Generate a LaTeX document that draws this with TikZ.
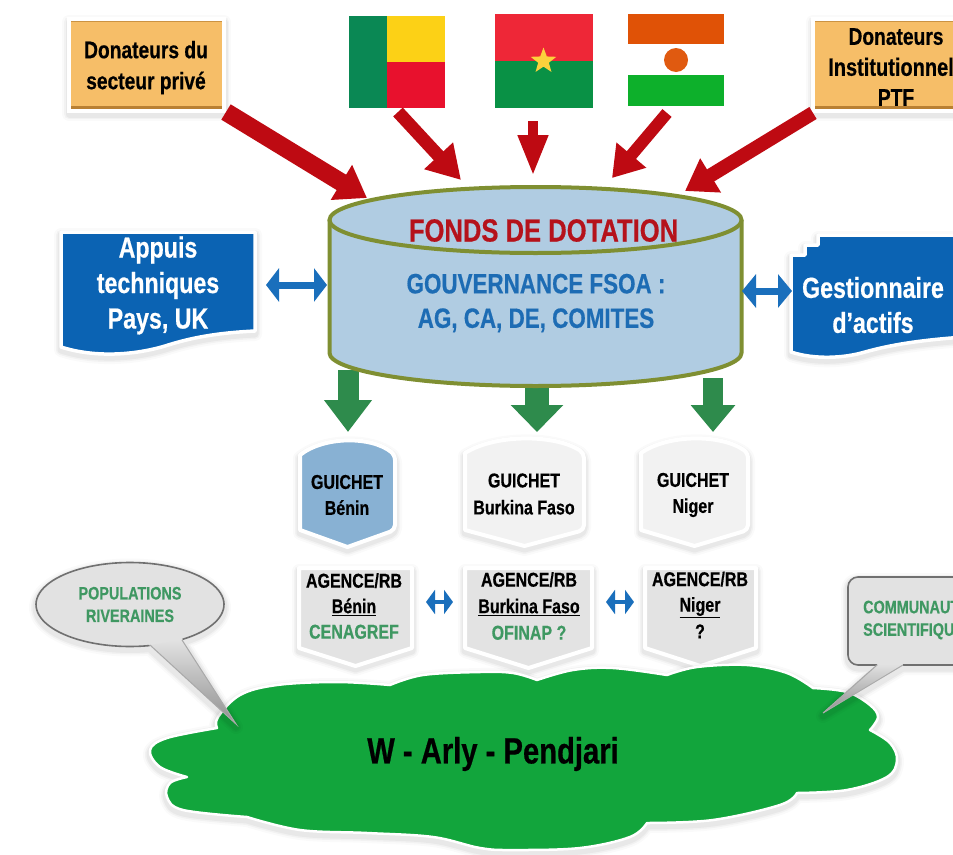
\documentclass[tikz,border=0pt]{standalone}
\usepackage{fontspec}
\setmainfont[FakeStretch=0.8,BoldFeatures={FakeBold=0.5}]{Liberation Sans}
\usetikzlibrary{arrows.meta,shapes.geometric}
\definecolor{orangebox}{HTML}{F6BE68}
\definecolor{orangedark}{HTML}{B98033}
\definecolor{bluebox}{HTML}{0B63B3}
\definecolor{bluedark}{HTML}{084A88}
\definecolor{arrowblue}{HTML}{1A6FBC}
\definecolor{arrowred}{HTML}{BE0A12}
\definecolor{arrowgreen}{HTML}{2E8B4C}
\definecolor{olive}{HTML}{7F8F32}
\definecolor{cylfill}{HTML}{B0CCE2}
\definecolor{titlered}{HTML}{B5121B}
\definecolor{textblue}{HTML}{1D6CB4}
\definecolor{textgreen}{HTML}{3F9862}
\definecolor{cloudgreen}{HTML}{12A53C}
\definecolor{guichetblue}{HTML}{88B1D3}
\definecolor{guichetwhite}{HTML}{F2F2F2}
\definecolor{agencegray}{HTML}{E3E3E3}
\definecolor{calloutgray}{HTML}{E2E2E2}
\definecolor{calloutline}{HTML}{707070}
\pgfdeclareverticalshading{bluesh}{100bp}{color(0bp)=(bluedark); color(12bp)=(bluebox); color(100bp)=(bluebox)}
\tikzset{
 softsh/.style={
  preaction={draw=black,draw opacity=.02,line width=14pt,line join=round,transform canvas={yshift=-3pt}},
  preaction={draw=black,draw opacity=.03,line width=10pt,line join=round,transform canvas={yshift=-3pt}},
  preaction={draw=black,draw opacity=.04,line width=7pt,line join=round,transform canvas={yshift=-3pt}}},
 txt/.style={inner sep=0pt,align=center,font=\bfseries\fontsize{#1}{#1}\selectfont},
 donorbox/.style={rectangle,inner sep=0pt,fill=orangebox,draw=white,line width=4pt,softsh,
   path picture={\fill[orangedark] ([yshift=5pt]path picture bounding box.south west) rectangle (path picture bounding box.south east);
                 \fill[orangedark!70!orangebox] (path picture bounding box.north west) rectangle ([yshift=-3pt]path picture bounding box.north east);}},
 flagnode/.style={rectangle,inner sep=0pt},
 redarrow/.style n args={3}{draw=arrowred,line width=#1,-{Triangle[length=#3,width=#2,fill=arrowred]}},
 greenarrow/.style n args={3}{draw=arrowgreen,line width=#1,-{Triangle[length=#3,width=#2,fill=arrowgreen]}},
 bluearrow/.style n args={3}{draw=arrowblue,line width=#1,{Triangle[length=#3,width=#2,fill=arrowblue]}-{Triangle[length=#3,width=#2,fill=arrowblue]}},
 docpath/.style={draw=white,line width=3.5pt,line join=round,shading=bluesh,softsh},
 shapeborder/.style={draw=white,line width=4pt,line join=round,softsh},
 cloudstyle/.style={fill=cloudgreen,draw=white,line width=2.5pt,line join=round,softsh},
}
\newcommand{\guichetshape}[7]{% left right topcorner topmid sidebottom tip fill
 \path[shapeborder,fill=#7,rounded corners=5pt]
  (#1,#3) .. controls ({#1+(#2-#1)*.25},#4) and ({#1+(#2-#1)*.75},#4) .. (#2,#3)
  -- (#2,#5) [sharp corners] -- ({(#1+#2)/2},#6) -- (#1,#5) -- cycle;}
\newcommand{\agenceshape}[5]{% left right top sidebottom tip
 \path[shapeborder,fill=agencegray]
  (#1,#3) -- (#2,#3) -- (#2,#4) -- ({(#1+#2)/2},#5) -- (#1,#4) -- cycle;}
\begin{document}
\begin{tikzpicture}[x=1pt,y=-1pt]
\useasboundingbox (0,0) rectangle (953,854);
\clip (0,0) rectangle (953,854);
\fill[white] (0,0) rectangle (953,854);

% coordinates for arrow ends
\coordinate (a1s) at (226,112); \coordinate (a1t) at (367,198);
\coordinate (a2s) at (398,112); \coordinate (a2t) at (461,180);
\coordinate (a3s) at (533,121); \coordinate (a3t) at (533,176);
\coordinate (a4s) at (667,113); \coordinate (a4t) at (612,178);
\coordinate (a5s) at (813,113); \coordinate (a5t) at (685,191);
\coordinate (la) at (266,285); \coordinate (lb) at (327,285);
\coordinate (ra) at (742,291); \coordinate (rb) at (792,291);
\coordinate (g1s) at (348,370); \coordinate (g1t) at (348,432);
\coordinate (g2s) at (537,385); \coordinate (g2t) at (537,432);
\coordinate (g3s) at (713,378); \coordinate (g3t) at (713,432);
\coordinate (s1a) at (426,602); \coordinate (s1b) at (453,602);
\coordinate (s2a) at (606,602); \coordinate (s2b) at (634,602);

% donors
\node[donorbox,minimum width=155pt,minimum height=92pt] (donprive) at (146.5,65) {};
\node[donorbox,minimum width=160pt,minimum height=92pt] (doninst) at (893,65) {};
\node[txt=24] (donprivetxt) at (146,67.5) {Donateurs du\\[7pt]secteur privé};
\node[txt=24] (doninsttxt) at (896,67) {Donateurs\\[7pt]{\fontsize{25}{25}\selectfont\hspace*{-10pt}Institutionnel}\\[6pt]PTF};

% flags
\node[flagnode,fill=white,minimum width=96pt,minimum height=92pt] (benin) at (397,62) {};
\fill[fill={rgb,255:red,10;green,136;blue,84}] (349,16) rectangle (387,108);
\fill[fill={rgb,255:red,252;green,209;blue,22}] (387,16) rectangle (445,62);
\fill[fill={rgb,255:red,232;green,17;blue,45}] (387,62) rectangle (445,108);
\node[flagnode,minimum width=98.5pt,minimum height=94pt] (burkina) at (543.5,61) {};
\fill[fill={rgb,255:red,238;green,39;blue,55}] (494.5,14) rectangle (593,61);
\fill[fill={rgb,255:red,9;green,145;blue,69}] (494.5,61) rectangle (593,108);
\node[star,star points=5,star point ratio=2.4,fill={rgb,255:red,252;green,209;blue,60},inner sep=0pt,minimum size=27pt] (bfstar) at (543.5,61) {};
\node[flagnode,minimum width=96pt,minimum height=92pt] (niger) at (676,60) {};
\fill[fill={rgb,255:red,224;green,82;blue,6}] (628,14) rectangle (724,44);
\fill[fill={rgb,255:red,13;green,176;blue,43}] (628,75) rectangle (724,106);
\fill[fill={rgb,255:red,224;green,90;blue,16}] (676,60) circle (12pt);

% red arrows
\draw[redarrow={18pt}{39pt}{30pt}] (a1s) -- (a1t);
\draw[redarrow={13pt}{37pt}{33pt}] (a2s) -- (a2t);
\draw[redarrow={10pt}{28pt}{41pt}] (a3s) -- (a3t);
\draw[redarrow={12pt}{37pt}{30pt}] (a4s) -- (a4t);
\draw[redarrow={14pt}{38pt}{30pt}] (a5s) -- (a5t);

% green arrows
\draw[greenarrow={21pt}{46pt}{32pt}] (g1s) -- (g1t);
\draw[greenarrow={24pt}{51pt}{27pt}] (g2s) -- (g2t);
\draw[greenarrow={20pt}{43pt}{27pt}] (g3s) -- (g3t);

% cylinder
\path[fill=cylfill,draw=olive,line width=4pt,line join=round]
 (329.5,220) -- (329.5,353) .. controls (329.5,371) and (422,386) .. (535.5,386)
 .. controls (649,386) and (741.5,371) .. (741.5,353) -- (741.5,220);
\path[fill=cylfill] (535.5,220) ellipse [x radius=206,y radius=33];
\draw[olive,line width=4pt] (535.5,220) ellipse [x radius=206,y radius=33];
\node[txt=32,text=titlered] (fondstitle) at (543.5,230.5) {FONDS DE DOTATION};
\node[txt=28,text=textblue] (gouv) at (536,303) {GOUVERNANCE FSOA :\\[6.5pt]AG, CA, DE, COMITES};

% blue documents
\path[docpath] (61,232) -- (255,232) -- (255,331) .. controls (215,333) and (190,338) .. (165,346)
 .. controls (135,355) and (95,358) .. (61,347) -- cycle;
\node[txt=29,text=white] (appuis) at (158,285.5) {Appuis\\[6.5pt]techniques\\[6.5pt]Pays, UK};
\path[docpath] (818,235) -- (965,235) -- (965,337) .. controls (920,340) and (890,345) .. (865,352)
 .. controls (845,358) and (815,360) .. (791,352) -- (791,255) -- (805,255) -- (805,245) -- (818,245) -- cycle;
\node[txt=29,text=white] (gest) at (873,305) {Gestionnaire\\[6pt]d’actifs};

% double arrows
\draw[bluearrow={7pt}{33pt}{13pt}] (la) -- (lb);
\draw[bluearrow={7pt}{33pt}{14pt}] (ra) -- (rb);
\draw[bluearrow={4pt}{24pt}{9pt}] (s1a) -- (s1b);
\draw[bluearrow={4pt}{24pt}{9pt}] (s2a) -- (s2b);

% guichets
\guichetshape{300}{395}{455}{436}{530}{547}{guichetblue}
\guichetshape{465}{584}{453}{434}{530}{546}{guichetwhite}
\guichetshape{641}{748}{453}{434}{530}{546}{guichetwhite}
\node[txt=20] (gbenin) at (347,495) {GUICHET\\[6pt]Bénin};
\node[txt=20] (gburkina) at (524,494) {GUICHET\\[7pt]Burkina Faso};
\node[txt=20] (gniger) at (693,495) {GUICHET\\[6pt]Niger};

% agences
\agenceshape{299}{412}{568}{648}{666}
\agenceshape{465}{592}{568}{648}{668}
\agenceshape{645}{756}{568}{648}{666}
\node[txt=20] (abenin) at (354,606) {AGENCE/RB\\[5.5pt]\underline{Bénin}\\[5.5pt]\textcolor{textgreen}{CENAGREF}};
\node[txt=20] (aburkina) at (529,606) {AGENCE/RB\\[6.5pt]\underline{Burkina Faso}\\[6.5pt]\textcolor{textgreen}{OFINAP ?}};
\node[txt=20] (aniger) at (700,605) {AGENCE/RB\\[5.5pt]\underline{Niger}\\[5.5pt]?};

% cloud
\path[cloudstyle]
 plot[smooth,tension=.6] coordinates {(217,728) (167,738) (150,750) (160,767) (187,777)}
 -- plot[smooth,tension=.6] coordinates {(187,777) (170,783) (167,797) (183,810) (247,817)}
 -- plot[smooth,tension=.6] coordinates {(247,817) (300,830) (367,833) (433,837) (480,848) (513,850) (580,848) (630,837) (647,823)}
 -- plot[smooth,tension=.6] coordinates {(647,823) (713,820) (780,805) (797,793)}
 -- plot[smooth,tension=.6] coordinates {(797,793) (847,790) (887,777) (897,760) (890,743) (870,730)}
 -- plot[smooth,tension=.6] coordinates {(870,730) (878,717) (870,705) (847,692) (813,688)}
 -- plot[smooth,tension=.6] coordinates {(813,688) (787,673) (747,665) (697,667) (667,675)}
 -- plot[smooth,tension=.6] coordinates {(667,675) (613,668) (573,670) (537,680)}
 -- plot[smooth,tension=.6] coordinates {(537,680) (513,673) (480,672) (423,675) (390,685)}
 -- plot[smooth,tension=.6] coordinates {(390,685) (337,682) (277,685) (240,695) (218,717) (217,728)}
 -- cycle;
\node[txt=36.5] (wap) at (493,754) {W - Arly - Pendjari};

% callout left
\coordinate (ltip) at (236,724);
\path[fill=calloutgray,softsh]
 plot[domain=78:416,samples=90] ({130+94*cos(\x)},{604.5+42*sin(\x)}) -- (ltip) -- cycle;
\shade[top color=calloutgray,bottom color=black!45,opacity=.95] (150,645) -- (182,640) -- (ltip) -- cycle;
\draw[calloutline,line width=1.6pt,line join=round]
 plot[domain=78:416,samples=90] ({130+94*cos(\x)},{604.5+42*sin(\x)});
\draw[calloutline!60,line width=1pt] (150,645) -- (ltip) -- (182,640);
\node[txt=18,text=textgreen] (popul) at (130,604.5) {POPULATIONS\\[4.5pt]RIVERAINES};

% callout right
\coordinate (rtip) at (823,713);
\path[fill=calloutgray,softsh,rounded corners=10pt]
 (903,665) -- (975,665) -- (975,577) -- (848,577) -- (848,665) [sharp corners] -- (877,665) -- (rtip) -- cycle;
\shade[top color=calloutgray,bottom color=black!45,opacity=.95] (877,664) -- (903,664) -- (rtip) -- cycle;
\draw[calloutline,line width=1.6pt,rounded corners=10pt]
 (903,665) -- (975,665) -- (975,577) -- (848,577) -- (848,665) -- (877,665);
\draw[calloutline!60,line width=1pt] (877,665) -- (rtip) -- (903,665);
\node[txt=18,text=textgreen,anchor=west,align=left] (commu) at (863,620) {COMMUNAUTE\\[4.5pt]SCIENTIFIQUE};
\end{tikzpicture}
\end{document}
